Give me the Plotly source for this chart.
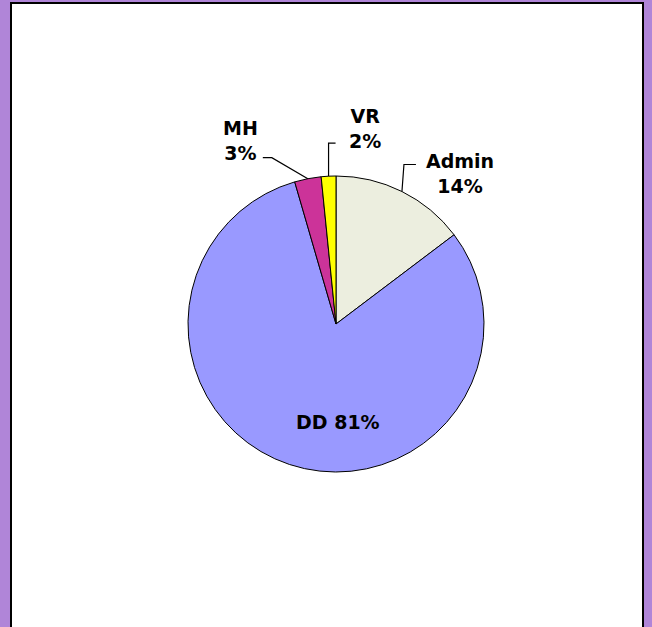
import math
import plotly.graph_objects as go

# Data
labels = ["Admin", "DD", "MH", "VR"]
values = [14.7, 80.8, 2.9, 1.6]
pct_text = ["14%", "81%", "3%", "2%"]
colors = ["#ECEEDF", "#9999FF", "#CC3399", "#FFFF00"]

W, H = 652, 627
CX, CY, R = 336, 324, 148  # pie centre / radius in pixels


def px(x):
    return x / W


def py(y):
    return 1 - y / H


fig = go.Figure()
fig.add_trace(go.Pie(
    labels=labels, values=values, sort=False, direction="clockwise", rotation=0,
    marker=dict(colors=colors, line=dict(color="black", width=1)),
    textinfo="none", hoverinfo="label+percent", showlegend=False,
    domain=dict(x=[px(CX - R), px(CX + R)], y=[py(CY + R), py(CY - R)]),
))

# Label layout: elbow offsets (from slice edge), tail offset, label centre
label_cfg = {
    "Admin": dict(elbow=(2, -27), tail=12, pos=(460, 173), outside=True),
    "MH": dict(elbow=(-36, -21), tail=-9, pos=(240, 141), outside=True),
    "VR": dict(elbow=(0, -33), tail=7, pos=(365, 128), outside=True),
    "DD": dict(pos=(338, 422), outside=False),
}

font = dict(family="DejaVu Sans", size=19, color="black", weight="bold")
shapes = [dict(type="rect", xref="paper", yref="paper", x0=px(11), x1=px(643),
               y0=py(640), y1=py(3), fillcolor="white",
               line=dict(color="black", width=2), layer="below")]
annotations = []
total = sum(values)
cum = 0
for lab, v, t in zip(labels, values, pct_text):
    mid = (cum + v / 2) / total * 2 * math.pi
    cum += v
    cfg = label_cfg[lab]
    if cfg["outside"]:
        ex, ey = CX + R * math.sin(mid), CY - R * math.cos(mid)
        bx, by = ex + cfg["elbow"][0], ey + cfg["elbow"][1]
        tx = bx + cfg["tail"]
        path = f"M {px(ex)} {py(ey)} L {px(bx)} {py(by)} L {px(tx)} {py(by)}"
        shapes.append(dict(type="path", xref="paper", yref="paper", path=path,
                           line=dict(color="black", width=1.2)))
        txt = f"{lab}<br>{t}"
    else:
        txt = f"{lab} {t}"
    annotations.append(dict(x=px(cfg["pos"][0]), y=py(cfg["pos"][1]), xref="paper", yref="paper",
                            text=txt, showarrow=False, xanchor="center", yanchor="middle",
                            font=font, align="center"))

fig.update_layout(
    width=W, height=H, margin=dict(l=0, r=0, t=0, b=0),
    paper_bgcolor="#B085D8", plot_bgcolor="white",
    shapes=shapes, annotations=annotations,
)
fig.write_html("out.html", config={"displayModeBar": False},
               post_script="document.body.style.margin='0';document.body.style.overflow='hidden';")
